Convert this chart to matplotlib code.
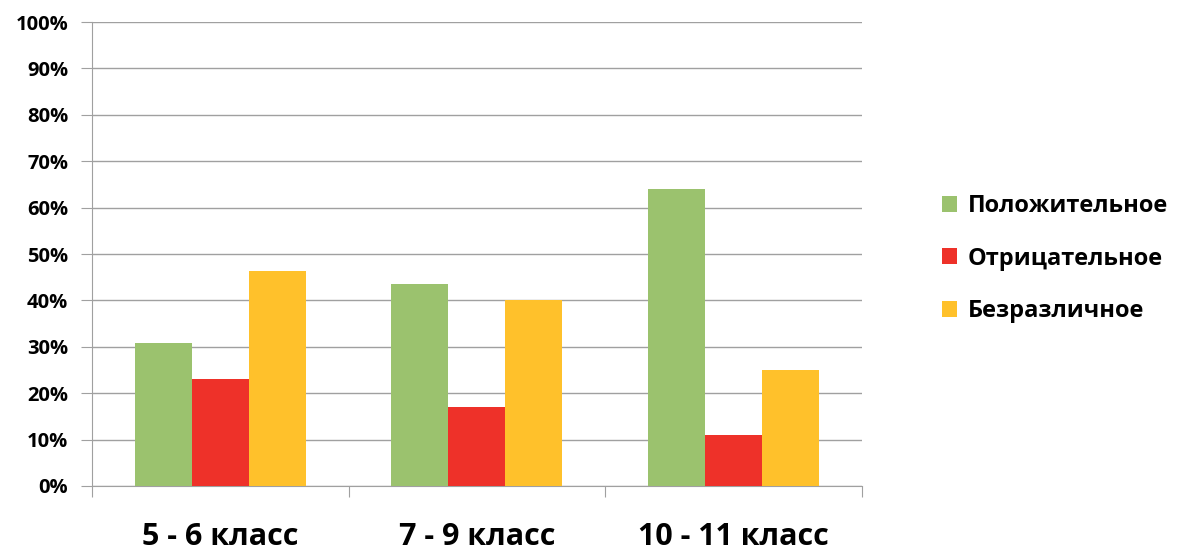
import matplotlib
matplotlib.use('Agg')
import matplotlib.pyplot as plt
import numpy as np

plt.rcParams['font.family'] = ['Open Sans', 'DejaVu Sans']
plt.rcParams['font.weight'] = 'bold'

categories = ['5 - 6 класс', '7 - 9 класс', '10 - 11 класс']
series_names = ['Положительное', 'Отрицательное', 'Безразличное']
positive = [30.8, 43.5, 64.0]
negative = [23.1, 17.0, 11.0]
neutral = [46.3, 40.1, 25.0]
colors = ['#9BC26E', '#EE3129', '#FFC12B']

fig = plt.figure(figsize=(11.82, 5.56), dpi=100)
ax = fig.add_axes([0.0778, 0.1259, 0.6514, 0.8345])

x = np.arange(len(categories))
w = 0.222
for i, (vals, name) in enumerate(zip([positive, negative, neutral], series_names)):
    ax.bar(x + (i - 1) * w, vals, width=w, color=colors[i], label=name, zorder=3)

ax.set_xlim(-0.5, 2.5)
ax.set_ylim(0, 100)
ax.set_yticks(range(0, 101, 10))
ax.set_yticklabels([f'{v}%' for v in range(0, 101, 10)], fontsize=14.5, fontweight='bold')
ax.yaxis.grid(True, color='#A0A0A0', linewidth=1, zorder=0)

ax.set_xticks([-0.5, 0.5, 1.5, 2.5])
ax.set_xticklabels([])
ax.set_xticks(x, minor=True)
ax.set_xticklabels(categories, minor=True, fontsize=22, fontweight='bold')
ax.tick_params(axis='x', which='minor', length=0, pad=26)
ax.tick_params(axis='x', which='major', length=8, color='#A0A0A0')
ax.tick_params(axis='y', length=8, color='#A0A0A0', pad=9)

for s in ['top', 'right']:
    ax.spines[s].set_visible(False)
for s in ['left', 'bottom']:
    ax.spines[s].set_color('#A0A0A0')

ax.legend(loc='center left', bbox_to_anchor=(1.076, 0.49), frameon=False,
          prop={'size': 17, 'weight': 'bold'}, handlelength=0.65, handleheight=0.65,
          handletextpad=0.45, labelspacing=1.2)

fig.savefig('out.png', dpi=100)
